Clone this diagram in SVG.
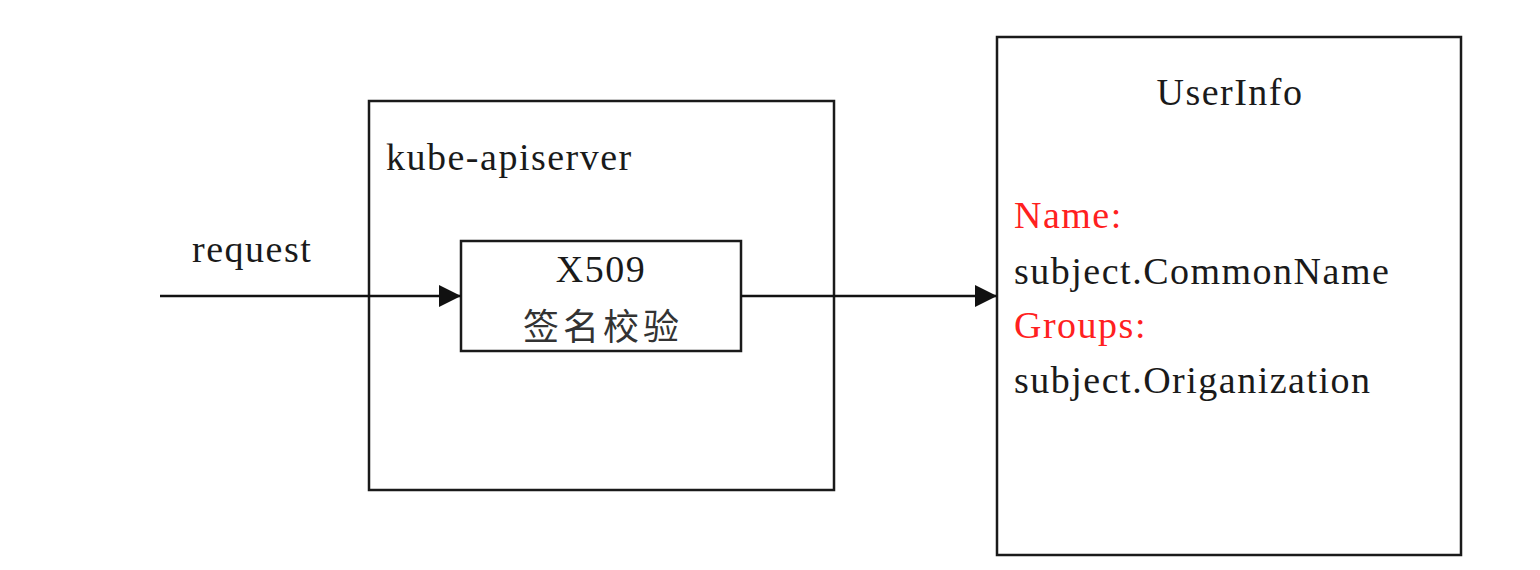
<svg xmlns="http://www.w3.org/2000/svg" width="1540" height="570" viewBox="0 0 1540 570">
<style>
.box{fill:#fff;stroke:#1a1a1a;stroke-width:2.5}
.t{font-family:"Liberation Serif","Noto Sans CJK SC",serif;font-size:38px;letter-spacing:1.5px;fill:#1a1a1a}
.red{fill:#ff2020}
.cn{font-family:"Noto Sans CJK SC",sans-serif;font-size:36px;letter-spacing:4px;fill:#333}
.ln{stroke:#111;stroke-width:2.5;fill:none}
</style>
<defs>
<marker id="arr" viewBox="0 0 10 10" refX="10" refY="5" markerWidth="22" markerHeight="22" markerUnits="userSpaceOnUse" orient="auto">
<path d="M0,0 L10,5 L0,10 z" fill="#111"/>
</marker>
</defs>
<rect width="1540" height="570" fill="#fff"/>
<g id="kube-apiserver">
<rect class="box" x="369" y="101" width="465" height="389"/>
<text class="t" x="386" y="170">kube-apiserver</text>
</g>
<g id="x509">
<rect class="box" x="461" y="241" width="280" height="110"/>
<text class="t" x="601" y="282" text-anchor="middle">X509</text>
<text class="cn" x="603" y="340" text-anchor="middle">签名校验</text>
</g>
<g id="userinfo">
<rect class="box" x="997" y="37" width="464" height="518"/>
<text class="t" x="1230" y="105" text-anchor="middle">UserInfo</text>
<text class="t red" x="1014" y="228">Name:</text>
<text class="t" x="1014" y="284">subject.CommonName</text>
<text class="t red" x="1014" y="338">Groups:</text>
<text class="t" x="1014" y="393">subject.Origanization</text>
</g>
<g id="connectors">
<line class="ln" x1="160" y1="296" x2="461" y2="296" marker-end="url(#arr)"/>
<line class="ln" x1="741" y1="296" x2="997" y2="296" marker-end="url(#arr)"/>
<text class="t" x="192" y="262">request</text>
</g>
</svg>
